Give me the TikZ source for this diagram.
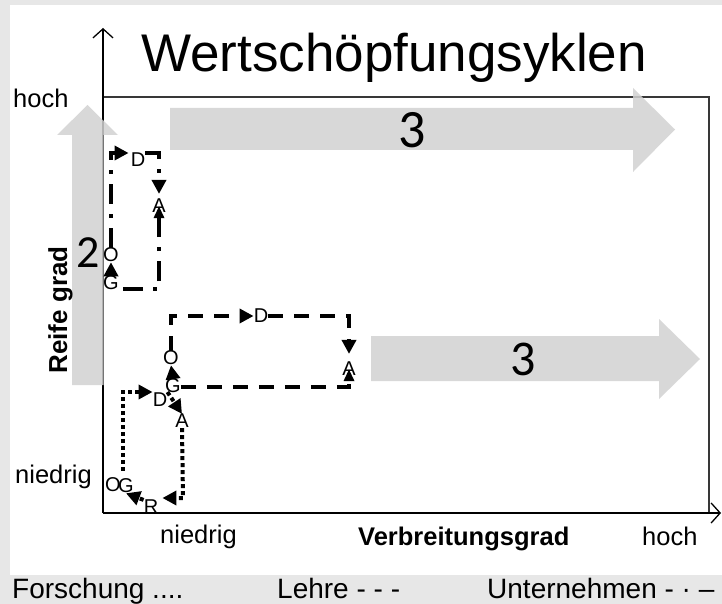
\documentclass[tikz,border=0pt]{standalone}
\usepackage{fontspec}
\setmainfont{Liberation Sans}
\newfontfamily\digitfont{Carlito}
\usetikzlibrary{arrows.meta}
\definecolor{bggray}{HTML}{E7E7E7}
\definecolor{arrgray}{HTML}{D2D2D2}
\definecolor{framegray}{HTML}{383838}
\begin{document}
\begin{tikzpicture}[x=1pt,y=-1pt,
  lbl/.style={inner sep=0pt, anchor=base west, font=\fontsize{25.5}{30}\selectfont},
  legend/.style={inner sep=0pt, anchor=base west, font=\fontsize{28}{32}\selectfont},
  letter/.style={inner sep=0pt, font=\fontsize{20}{22}\selectfont},
  digit/.style={inner sep=0pt, anchor=base},
  forsch/.style={line width=4pt, dash pattern=on 4pt off 3pt},
  lehre/.style={line width=4pt, dash pattern=on 15pt off 11pt},
  untern/.style={line width=4pt, dash pattern=on 20pt off 10pt on 4pt off 10pt},
  tip/.style={-{Triangle[length=14pt,width=14pt]}},
  thintip/.style={-{Triangle[length=12pt,width=10pt]}},
  grayarrow/.style={fill=arrgray, fill opacity=0.85, draw=none},
  barb/.style={-{Straight Barb[length=9pt,width=20pt,line width=1.3pt]}}
]
\useasboundingbox (0,0) rectangle (722,604);
\fill[bggray] (0,0) rectangle (722,604);
\fill[white] (10,5) rectangle (722,575);

% frame and axes
\coordinate (origin) at (103,513);
\coordinate (ytop) at (103,28);
\coordinate (xend) at (721,513);
\coordinate (frTL) at (103,97);
\coordinate (frTR) at (709,97);
\coordinate (frBR) at (709,513);
\draw[framegray, line width=1.2pt] (frTL) -- (frTR) -- (frBR);
\draw[line width=1.5pt, barb] (origin) -- (ytop);
\draw[line width=2.5pt, barb] (origin) -- (xend);

% big gray arrows
\fill[grayarrow] (72,385) -- (72,135) -- (57,135) -- (87.5,105) -- (118,135) -- (103.5,135) -- (103.5,385) -- cycle;
\fill[grayarrow] (170,108) -- (633,108) -- (633,88) -- (675,129.5) -- (633,172) -- (633,150) -- (170,150) -- cycle;
\fill[grayarrow] (371,336) -- (659,336) -- (659,319) -- (700,359) -- (659,399) -- (659,381) -- (371,381) -- cycle;

% texts
\node[inner sep=0pt, anchor=base, font=\fontsize{53}{60}\selectfont] (title) at (394,72) {Wertschöpfungsyklen};
\node[lbl] (yhigh) at (13,108) {hoch};
\node[lbl] (ylow) at (15,483) {niedrig};
\node[lbl] (xlow) at (160,543) {niedrig};
\node[lbl, font=\fontsize{25.5}{30}\selectfont\bfseries] (xlabel) at (358,545) {Verbreitungsgrad};
\node[lbl] (xhigh) at (642,545) {hoch};
\node[inner sep=0pt, anchor=base, rotate=90, font=\fontsize{26}{30}\selectfont\bfseries] (ylabel) at (67,310) {Reife grad};
\node[digit, font=\digitfont\fontsize{46}{54}\selectfont] (two) at (88,267) {2};
\node[digit, font=\digitfont\fontsize{54}{60}\selectfont] (threeA) at (412,148) {3};
\node[digit, font=\digitfont\fontsize{50}{56}\selectfont] (threeB) at (523,375) {3};

% legend
\node[legend] (leg1) at (12,598) {Forschung ....};
\node[legend] (leg2) at (277,598) {Lehre - - -};
\node[legend] (leg3) at (487,598) {Unternehmen - · –};

% Unternehmen loop (dash-dot)
\node[letter] (uO) at (111,255) {O};
\node[letter] (uG) at (111,283) {G};
\node[letter] (uD) at (138,160) {D};
\node[letter] (uA) at (159,206) {A};
\coordinate (uTL) at (111,153);
\coordinate (uTR) at (159,153);
\coordinate (uBR) at (159,289);
\coordinate (uBL) at (123,289);
\draw[untern, tip, shorten >=2pt] (uO.north) -- (uTL) -- (uD.west |- uTL);
\draw[untern, tip, shorten >=5pt] (uD.east |- uTL) -- (uTR) -- (uA.north);
\draw[untern, thintip, shorten >=-7pt] (uBL) -- (uBR) -- (uA.south);
\draw[untern, tip] (uG.north) -- (uO.south);

% Lehre loop (dashed)
\node[letter] (lO) at (171,358) {O};
\node[letter] (lG) at (173,386) {G};
\node[letter] (lD) at (261,316) {D};
\node[letter] (lA) at (349,369) {A};
\coordinate (lTL) at (171,316);
\coordinate (lTR) at (349,316);
\coordinate (lBR) at (349,387);
\draw[lehre, tip] (lO.north) -- (lTL) -- (lD.west);
\draw[lehre, tip, shorten >=8pt] (lD.east) -- (lTR) -- (lA.north);
\draw[lehre, thintip, shorten >=-7pt] (lG.east |- lBR) -- (lBR) -- (lA.south);
\draw[lehre, tip] (lG.north) -- (lO.south);

% Forschung loop (dotted)
\node[letter] (fO) at (113,485) {O};
\node[letter] (fG) at (126,486) {G};
\node[letter] (fD) at (160,400) {D};
\node[letter] (fA) at (182,421) {A};
\node[letter] (fR) at (151,507) {R};
\coordinate (fTLc) at (123,392);
\coordinate (fBRc) at (183,498);
\draw[forsch, tip, shorten <=8pt] (fTLc |- fG.north) -- (fTLc) -- (fD.west |- fTLc);
\draw[forsch, tip] (fD.east |- fTLc) -- (fA.north);
\draw[forsch, tip, shorten >=4pt] (fA.south) -- (fBRc) -- (fR.east |- fBRc);
\draw[forsch, tip] (fR.north west) -- (fG.south);
\end{tikzpicture}
\end{document}
